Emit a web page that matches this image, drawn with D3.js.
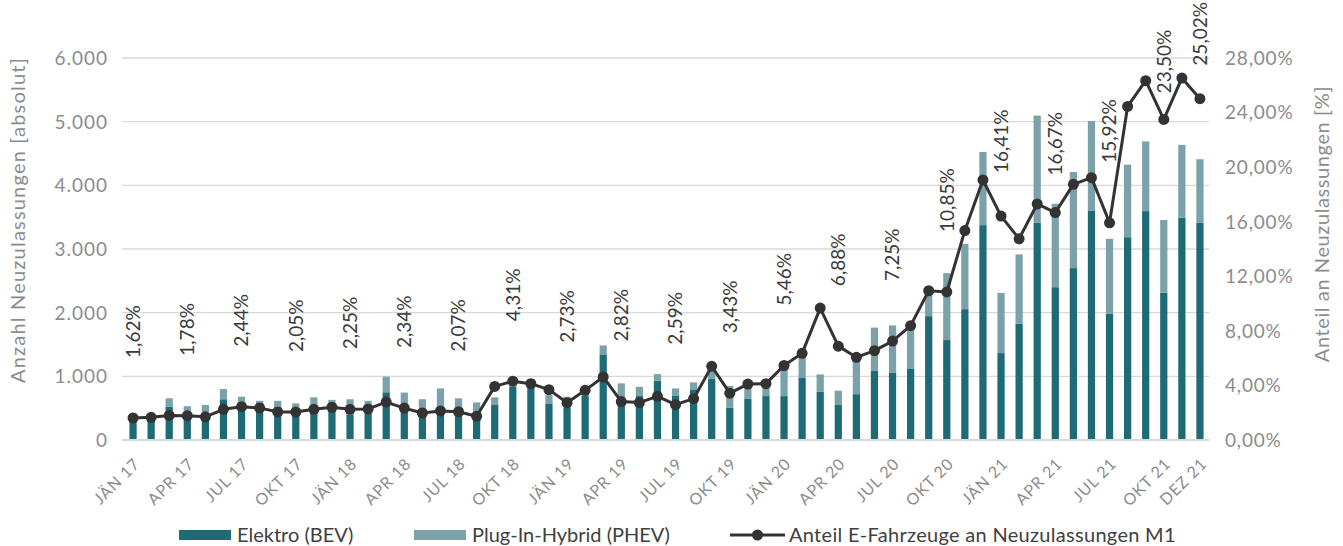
<!DOCTYPE html>
<html lang="de">
<head>
<meta charset="utf-8">
<script src="https://cdn.jsdelivr.net/npm/d3@7"></script>
<style>
  html, body { margin: 0; padding: 0; background: #fff; }
  svg { display: block; font-family: Lato, "Open Sans", sans-serif; }
</style>
</head>
<body>
<div id="chart"></div>
<script>
// monthly new registrations (Austria, M1)
const month_names = ['JÄN', 'FEB', 'MÄR', 'APR', 'MAI', 'JUN', 'JUL', 'AUG', 'SEP', 'OKT', 'NOV', 'DEZ'];
const years = ['17', '18', '19', '20', '21'];
const months = years.flatMap(y => month_names.map(m => `${m} ${y}`));

const bev = [
  300, 310, 520, 430, 370, 640, 600, 580, 520, 500, 540, 560,
  400, 540, 750, 550, 420, 400, 470, 380, 550, 840, 900, 565,
  510, 700, 1335, 640, 690, 930, 700, 795, 960, 510, 645, 690,
  690, 975, 755, 550, 720, 1085, 1060, 1115, 1945, 1570, 2055, 3375,
  1365, 1825, 3410, 2400, 2700, 3605, 1980, 3185, 3595, 2315, 3490, 3410
];
const phev = [
  30, 25, 135, 100, 180, 160, 80, 35, 95, 75, 130, 70,
  240, 75, 245, 195, 220, 410, 185, 210, 120, 30, 60, 140,
  170, 30, 150, 250, 145, 105, 110, 110, 120, 340, 190, 140,
  430, 360, 275, 225, 530, 680, 740, 630, 340, 1050, 1025, 1150,
  945, 1090, 1685, 1310, 1510, 1405, 1180, 1140, 1095, 1140, 1145, 1000
];
// share of e-vehicles in all new registrations, percent
const share = [
  1.62, 1.66, 1.80, 1.78, 1.70, 2.25, 2.44, 2.35, 2.06, 2.05, 2.25, 2.40,
  2.25, 2.28, 2.78, 2.34, 1.98, 2.13, 2.07, 1.74, 3.93, 4.31, 4.13, 3.69,
  2.73, 3.64, 4.62, 2.82, 2.74, 3.20, 2.59, 3.03, 5.40, 3.43, 4.10, 4.13,
  5.46, 6.35, 9.67, 6.88, 6.06, 6.55, 7.25, 8.38, 10.94, 10.85, 15.35, 19.06,
  16.41, 14.75, 17.30, 16.67, 18.74, 19.23, 15.92, 24.45, 26.34, 23.50, 26.53, 25.02
];

const left_ticks = [0, 1000, 2000, 3000, 4000, 5000, 6000];
const right_ticks = [0, 4, 8, 12, 16, 20, 24, 28];
const tick_months = months.filter((m, i) => i % 3 === 0 || i === months.length - 1);
const labelled_months = tick_months;

const series_names = ['Elektro (BEV)', 'Plug-In-Hybrid (PHEV)', 'Anteil E-Fahrzeuge an Neuzulassungen M1'];
const left_title = 'Anzahl Neuzulassungen [absolut]';
const right_title = 'Anteil an Neuzulassungen [%]';

// a few value labels were moved by hand in the original to keep them apart
const label_nudge = { 'JÄN 21': 17, 'APR 21': 23, 'OKT 21': 34, 'DEZ 21': 27 };

const colors = { bev: '#1f6b75', phev: '#7ca2a9', line: '#333333', axis_text: '#8c8c8c', grid: '#d9d9d9', label: '#3a3a3a' };

const W = 1343, H = 546;
const dims = { left: 122, right: 1209, top: 58, bottom: 440 };

const fmt_int = v => d3.format(',')(v).replace(/,/g, '.');
const fmt_pct = v => v.toFixed(2).replace('.', ',') + '%';

const svg = d3.select('#chart').append('svg')
  .attr('width', W)
  .attr('height', H)
  .attr('viewBox', [0, 0, W, H]);

const x = d3.scaleBand()
  .domain(months)
  .range([dims.left + 2, dims.right])
  .paddingInner(0.6)
  .paddingOuter(0.3);
const x_mid = m => x(m) + x.bandwidth() / 2;

const y = d3.scaleLinear().domain([0, 6000]).range([dims.bottom, dims.top]);
const y2 = d3.scaleLinear().domain([0, 28]).range([dims.bottom, dims.top]);

// gridlines
svg.append('g')
  .selectAll('line')
  .data(left_ticks.slice(1))
  .join('line')
  .attr('x1', dims.left)
  .attr('x2', dims.right)
  .attr('y1', d => y(d))
  .attr('y2', d => y(d))
  .attr('stroke', colors.grid)
  .attr('stroke-width', 1.3);

// left axis labels
svg.append('g')
  .selectAll('text')
  .data(left_ticks)
  .join('text')
  .attr('x', 108)
  .attr('y', d => y(d))
  .attr('dy', '0.36em')
  .attr('text-anchor', 'end')
  .attr('fill', colors.axis_text)
  .attr('font-size', 19)
  .attr('letter-spacing', 1)
  .text(fmt_int);

// right axis labels
svg.append('g')
  .selectAll('text')
  .data(right_ticks)
  .join('text')
  .attr('x', 1225)
  .attr('y', d => y2(d))
  .attr('dy', '0.36em')
  .attr('text-anchor', 'start')
  .attr('fill', colors.axis_text)
  .attr('font-size', 19)
  .attr('letter-spacing', 0.8)
  .text(d => fmt_pct(d));

// axis titles
svg.append('text')
  .attr('transform', 'translate(18, 220) rotate(-90)')
  .attr('dy', '0.36em')
  .attr('text-anchor', 'middle')
  .attr('fill', colors.axis_text)
  .attr('font-size', 20)
  .attr('letter-spacing', 1.2)
  .text(left_title);

svg.append('text')
  .attr('transform', 'translate(1322, 224) rotate(-90)')
  .attr('dy', '0.36em')
  .attr('text-anchor', 'middle')
  .attr('fill', colors.axis_text)
  .attr('font-size', 20)
  .attr('letter-spacing', 0.6)
  .text(right_title);

// stacked bars
const table = months.map((m, i) => ({ month: m, bev: bev[i], phev: phev[i], share: share[i] }));
const stack = d3.stack().keys(['bev', 'phev'])(table);

svg.append('g')
  .selectAll('g')
  .data(stack)
  .join('g')
  .attr('fill', d => colors[d.key])
  .selectAll('rect')
  .data(d => d)
  .join('rect')
  .attr('x', d => x(d.data.month))
  .attr('width', x.bandwidth())
  .attr('y', d => y(d[1]))
  .attr('height', d => y(d[0]) - y(d[1]));

// base line
svg.append('line')
  .attr('x1', dims.left)
  .attr('x2', dims.right)
  .attr('y1', y(0))
  .attr('y2', y(0))
  .attr('stroke', colors.grid)
  .attr('stroke-width', 2);

// x axis tick labels
svg.append('g')
  .selectAll('text')
  .data(tick_months)
  .join('text')
  .attr('transform', d => `translate(${x_mid(d)}, ${y(0) + 17}) rotate(-45)`)
  .attr('dy', '0.7em')
  .attr('text-anchor', 'end')
  .attr('fill', colors.axis_text)
  .attr('font-size', 16)
  .attr('letter-spacing', 0.8)
  .text(d => d);

// share line with markers
svg.append('path')
  .datum(table)
  .attr('d', d3.line().x(d => x_mid(d.month)).y(d => y2(d.share)))
  .attr('fill', 'none')
  .attr('stroke', colors.line)
  .attr('stroke-width', 3)
  .attr('stroke-linejoin', 'round');

svg.append('g')
  .selectAll('circle')
  .data(table)
  .join('circle')
  .attr('cx', d => x_mid(d.month))
  .attr('cy', d => y2(d.share))
  .attr('r', 5.5)
  .attr('fill', colors.line);

// rotated value labels, every third month
svg.append('g')
  .selectAll('text')
  .data(table.filter(d => labelled_months.includes(d.month)))
  .join('text')
  .attr('transform', d => `translate(${x_mid(d.month)}, ${y2(d.share) - 60 + (label_nudge[d.month] || 0)}) rotate(-90)`)
  .attr('dy', '0.36em')
  .attr('text-anchor', 'start')
  .attr('fill', colors.label)
  .attr('font-size', 19)
  .text(d => fmt_pct(d.share));

// legend
const legend = svg.append('g').attr('font-size', 20).attr('fill', '#404040');
const leg_y = 535;

legend.append('rect').attr('x', 179).attr('y', leg_y - 5).attr('width', 52).attr('height', 10).attr('fill', colors.bev);
legend.append('text').attr('x', 237).attr('y', leg_y).attr('dy', '0.36em').text(series_names[0]);

legend.append('rect').attr('x', 414).attr('y', leg_y - 5).attr('width', 52).attr('height', 10).attr('fill', colors.phev);
legend.append('text').attr('x', 472).attr('y', leg_y).attr('dy', '0.36em').text(series_names[1]);

legend.append('line').attr('x1', 730).attr('x2', 785).attr('y1', leg_y).attr('y2', leg_y)
  .attr('stroke', colors.line).attr('stroke-width', 3);
legend.append('circle').attr('cx', 757.5).attr('cy', leg_y).attr('r', 5.5).attr('fill', colors.line);
legend.append('text').attr('x', 789).attr('y', leg_y).attr('dy', '0.36em').attr('letter-spacing', 0.3).text(series_names[2]);
</script>
</body>
</html>
